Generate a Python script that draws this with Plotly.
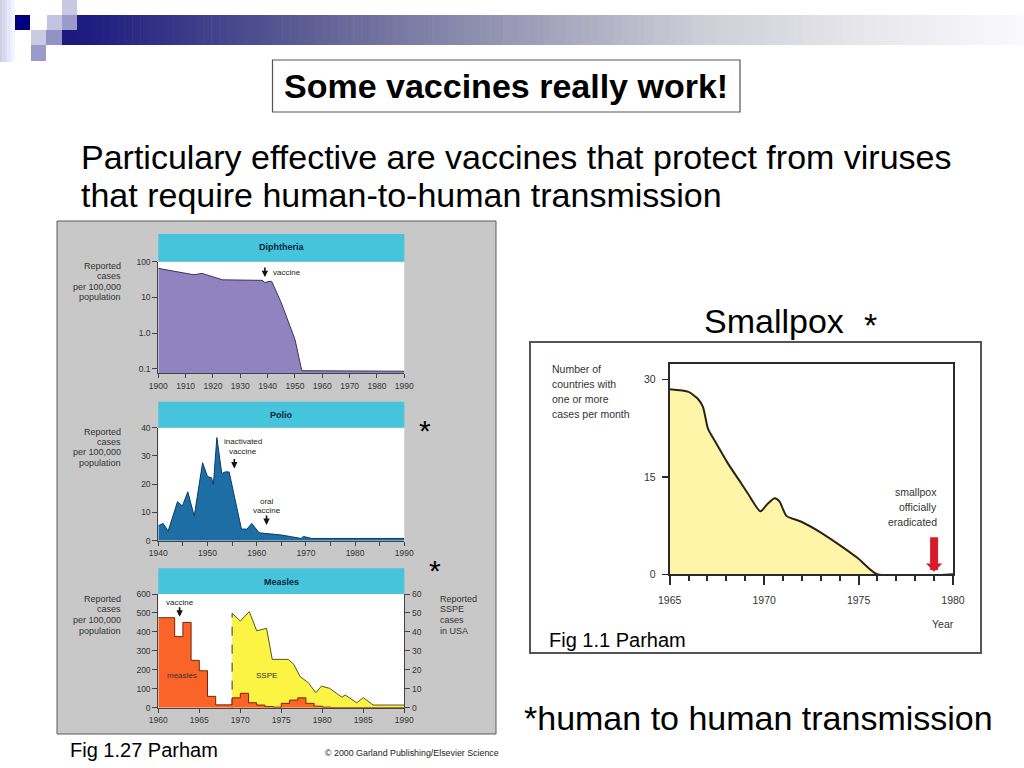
import plotly.graph_objects as go
import numpy as np

W, H = 1024, 768
SANS = "Liberation Sans, Arial, Helvetica, sans-serif"

# ------------------------------------------------------------------ data
diph_years = [1900, 1905, 1910, 1913, 1916, 1920, 1923.5, 1938, 1939, 1940.5, 1941.5, 1945, 1948, 1950, 1952.5, 1990]
diph_cases = [65, 55, 47, 43, 47, 38, 31, 30, 26, 28, 28, 7, 1.6, 0.66, 0.088, 0.085]
diph_tickvals = [0.1, 1, 10, 100]
diph_ticktext = ["0.1", "1.0", "10", "100"]
diph_xticks = list(range(1900, 1991, 10))

polio_years = [1940, 1941, 1942, 1943.9, 1944.9, 1946, 1947.3, 1949, 1950, 1950.8, 1951.2, 1951.9,
               1952.9, 1953.7, 1954.4, 1956.9, 1958, 1959, 1960.5, 1962.4, 1965.1, 1967.1, 1969,
               1969.5, 1971.2, 1990]
polio_cases = [5.3, 6.1, 3.4, 13.8, 12.3, 17.3, 8.7, 27.6, 22.7, 22.3, 20, 36.5,
               23.8, 24.4, 24.3, 4.1, 4.1, 6.1, 2.8, 2.5, 2.0, 1.4, 0.8,
               1.5, 0.8, 0.8]
polio_yticks = [0, 10, 20, 30, 40]

measles_years = list(range(1960, 1991))
measles_cases = [475, 475, 375, 450, 250, 195, 60, 15, 15, 52, 76, 26, 14, 6, 3, 23, 40, 52, 23, 8, 3,
                 0, 0, 0, 0, 0, 0, 0, 0, 0, 0]

sspe_years = [1969, 1970.0, 1971.1, 1972.0, 1973.2, 1973.9, 1975.85, 1976.5, 1977.3, 1978.3, 1979.2,
              1979.9, 1980.9, 1982.4, 1982.8, 1984.2, 1985.0, 1986.2, 1990]
sspe_cases = [49.8, 45.7, 50.7, 40.6, 41.9, 25.5, 25.5, 23.0, 16.4, 13.2, 7.9,
              11.4, 10.2, 5.5, 6.7, 2.6, 5.3, 1.4, 1.4]

smallpox_years = [1965.0, 1966.0, 1966.5, 1966.76, 1967.03, 1967.38, 1968.09, 1968.79, 1969.15, 1969.8,
                  1970.2, 1970.56, 1970.82, 1971.18, 1971.97, 1972.94, 1974.0, 1974.97, 1975.98, 1980.0]
smallpox_countries = [28.5, 28.1, 27.0, 25.8, 22.4, 20.6, 17.05, 14.0, 12.4, 9.7,
                      10.9, 11.7, 11.2, 9.0, 8.1, 6.55, 4.5, 2.46, 0, 0]
smallpox_yticks = [0, 15, 30]

# vaccine markers (year, value the arrow points to)
diph_vaccine = (1939, 37)
polio_inactivated = (1955.45, 25.6)
polio_oral = (1962.0, 5.6)
measles_vaccine = (1962.6, 480)
smallpox_eradicated = (1979.0, 0.4)

# ------------------------------------------------------------------ helpers
def PX(x):
    return x / W


def PY(y):
    return 1 - y / H


fig = go.Figure()
shapes = []
annotations = []


def rect(x0, y0, x1, y1, fill, line=None, lw=0):
    shapes.append(dict(type="rect", xref="paper", yref="paper", x0=PX(x0), x1=PX(x1),
                       y0=PY(y1), y1=PY(y0), fillcolor=fill, layer="below",
                       line=dict(color=line or fill, width=lw)))


def text(s, x, y, size, color="#000", anchor="left", bold=False):
    annotations.append(dict(text=f"<b>{s}</b>" if bold else s, x=PX(x), y=PY(y), xref="paper", yref="paper",
                            xanchor=anchor, yanchor="middle", showarrow=False,
                            font=dict(size=size, color=color, family=SANS)))


def lines(items, x, y0, step, size, color="#333", anchor="right"):
    for i, s in enumerate(items):
        text(s, x, y0 + i * step, size, color, anchor)


def arrow(x, y, xref, yref, ay, color="#111", width=1.6, head=2, size=0.8):
    annotations.append(dict(text="", x=x, y=y, xref=xref, yref=yref, ax=0, ay=ay, showarrow=True,
                            arrowhead=head, arrowsize=size, arrowwidth=width, arrowcolor=color,
                            standoff=0))


# ------------------------------------------------------------------ decoration (slide template)
stops = [(77, (26, 26, 128)), (300, (92, 92, 148)), (500, (150, 150, 180)),
         (700, (206, 206, 216)), (900, (236, 236, 240)), (1024, (250, 250, 252))]
N = 120
for i in range(N):
    xa = 77 + (1024 - 77) * i / N
    xb = 77 + (1024 - 77) * (i + 1) / N + 0.6
    xm = (xa + xb) / 2
    for (p0, c0), (p1, c1) in zip(stops[:-1], stops[1:]):
        if p0 <= xm <= p1:
            t = (xm - p0) / (p1 - p0)
            c = tuple(int(c0[k] + (c1[k] - c0[k]) * t) for k in range(3))
            break
    rect(xa, 15, xb, 45, "rgb(%d,%d,%d)" % c)
for i in range(6):
    g = int(205 + 8 * i)
    rect(i * 2.5, 0, i * 2.5 + 2.6, 62, "rgb(%d,%d,%d)" % (g, g, min(255, g + 22)))
rect(62, 30, 77, 45, "rgb(26,26,128)")
rect(15, 15, 30, 30, "#000080")
rect(62, 0, 77, 15, "#c8c8e2")
rect(47, 15, 62, 30, "#c4c4e2")
rect(62, 15, 77, 30, "#9a9acb")
rect(31, 30, 46, 45, "#cacae2")
rect(46, 30, 62, 45, "#9292c4")
rect(31, 45, 46, 61, "#9a9acb")

# ------------------------------------------------------------------ panel frames
rect(57, 221, 496, 734, "#c8c8c8", "#5a5a5a", 1)
PL, PR = 158.3, 404.3
# (header top, plot top, plot bottom)
diph_box = (234.0, 261.7, 373.3)
polio_box = (401.7, 427.7, 540.7)
measles_box = (568.3, 594.0, 707.7)
CYAN = "#45c4dc"
for top, ptop, pbot in (diph_box, polio_box, measles_box):
    rect(PL, ptop, PR, pbot, "#ffffff")
    rect(PL, top, PR, ptop, CYAN)

rect(530, 342, 981, 653, "#ffffff", "#555555", 2)

# ------------------------------------------------------------------ traces
fig.add_trace(go.Scatter(x=diph_years, y=diph_cases, xaxis="x", yaxis="y", mode="lines",
                         fill="tozeroy", fillcolor="#8f84bf", line=dict(color="#3a3360", width=1)))
fig.add_trace(go.Scatter(x=polio_years, y=polio_cases, xaxis="x2", yaxis="y2", mode="lines",
                         fill="tozeroy", fillcolor="#1c6ea4", line=dict(color="#0c3c6c", width=1)))
fig.add_trace(go.Scatter(x=sspe_years, y=sspe_cases, xaxis="x3", yaxis="y3", mode="lines",
                         fill="tozeroy", fillcolor="#fbf442", line=dict(color="#55551e", width=1)))
fig.add_trace(go.Scatter(x=[sspe_years[0], sspe_years[0]], y=[0, sspe_cases[0]], xaxis="x3", yaxis="y3",
                         mode="lines", line=dict(color="#333333", width=1, dash="dash")))
fig.add_trace(go.Scatter(x=measles_years, y=measles_cases, xaxis="x3", yaxis="y4", mode="lines",
                         line_shape="hv", fill="tozeroy", fillcolor="#fb6428",
                         line=dict(color="#7a2400", width=1)))
fig.add_trace(go.Scatter(x=smallpox_years, y=smallpox_countries, xaxis="x5", yaxis="y5", mode="lines",
                         line_shape="spline", line_smoothing=0.6, fill="tozeroy", fillcolor="#fff5a8",
                         line=dict(color="#2a2410", width=2)))

# ------------------------------------------------------------------ axes
tf = dict(size=8.5, color="#333333", family=SANS)
base = dict(showgrid=False, zeroline=False, showline=True, linecolor="#444444", linewidth=1,
            ticks="outside", tickcolor="#444444", tickwidth=1, tickfont=tf, fixedrange=True,
            automargin=False)

xdom = [PX(PL), PX(PR)]


def ydom(box):
    return [PY(box[2]), PY(box[1])]


log_bottom = 2 - (diph_box[2] - diph_box[1]) / 35.67
fig.update_layout(
    xaxis=dict(base, domain=xdom, anchor="y", range=[1900, 1990], tickvals=diph_xticks, ticklen=4),
    yaxis=dict(base, domain=ydom(diph_box), anchor="x", type="log", range=[log_bottom, 2],
               tickvals=diph_tickvals, ticktext=diph_ticktext, ticklen=5),
    xaxis2=dict(base, domain=xdom, anchor="y2", range=[1940, 1990], tick0=1940, dtick=10, ticklen=4,
                minor=dict(dtick=5, ticklen=4, ticks="outside", tickcolor="#444444")),
    yaxis2=dict(base, domain=ydom(polio_box), anchor="x2", range=[0, 40], tickvals=polio_yticks, ticklen=5),
    xaxis3=dict(base, domain=xdom, anchor="y3", range=[1960, 1990], tick0=1960, dtick=5, ticklen=4),
    yaxis3=dict(base, domain=ydom(measles_box), anchor="x3", side="right", range=[0, 60], dtick=10, ticklen=5),
    yaxis4=dict(base, anchor="x3", overlaying="y3", side="left", range=[0, 600], dtick=100, ticklen=5),
    xaxis5=dict(showgrid=False, zeroline=False, showline=True, mirror=True, linecolor="#2a2a2a", linewidth=2,
                domain=[PX(669.7), PX(953)], anchor="y5", range=[1965, 1980], tick0=1965, dtick=5,
                ticks="outside", ticklen=9, tickwidth=2, tickcolor="#2a2a2a", ticklabelstandoff=6,
                minor=dict(dtick=1, ticklen=5, tickwidth=2, ticks="outside", tickcolor="#2a2a2a"),
                tickfont=dict(size=10.5, color="#333333", family=SANS), fixedrange=True, automargin=False),
    yaxis5=dict(showgrid=False, zeroline=False, showline=True, mirror=True, linecolor="#2a2a2a", linewidth=2,
                domain=[PY(574.3), PY(364)], anchor="x5", range=[0, 32.4], tickvals=smallpox_yticks,
                ticks="outside", ticklen=6, tickwidth=1.5, tickcolor="#2a2a2a", ticklabelstandoff=4,
                tickfont=dict(size=10.5, color="#333333", family=SANS), fixedrange=True, automargin=False),
)

# ------------------------------------------------------------------ arrows
arrow(diph_vaccine[0], np.log10(diph_vaccine[1]), "x", "y", -11)
arrow(polio_inactivated[0], polio_inactivated[1], "x2", "y2", -11)
arrow(polio_oral[0], polio_oral[1], "x2", "y2", -11)
arrow(measles_vaccine[0], measles_vaccine[1], "x3", "y4", -11)
arrow(smallpox_eradicated[0], smallpox_eradicated[1], "x5", "y5", -36, color="#d41c2c", width=8, head=1,
      size=0.34)

# ------------------------------------------------------------------ texts
text("Some vaccines really work!", 506, 86, 34, "#000", "center", bold=True)
shapes.append(dict(type="rect", xref="paper", yref="paper", x0=PX(272.5), x1=PX(740), y0=PY(112), y1=PY(60),
                   line=dict(color="#555555", width=1.2), fillcolor="rgba(0,0,0,0)", layer="above"))
text("Particulary effective are vaccines that protect from viruses", 79, 157, 34)
text("that require human-to-human transmission", 79, 195, 34)
text("Smallpox", 702, 321, 34)
text("*", 870, 325, 34, "#000", "center")
text("*human to human transmission", 522, 718, 34)
text("Fig 1.27 Parham", 68, 750, 20)
text("© 2000 Garland Publishing/Elsevier Science", 323, 753, 8.85, "#222", "left")
text("Fig 1.1 Parham", 547, 640, 20)
text("*", 425, 430, 30, "#000", "center")
text("*", 435, 570, 30, "#000", "center")

# panel labels
lines(["Reported", "cases", "per 100,000", "population"], 123.3, 265.5, 10.6, 9)
lines(["Reported", "cases", "per 100,000", "population"], 123.3, 431.5, 10.4, 9)
lines(["Reported", "cases", "per 100,000", "population"], 123.3, 598.5, 10.7, 9)
lines(["Reported", "SSPE", "cases", "in USA"], 437.5, 598.5, 10.7, 9, anchor="left")
text("Diphtheria", 281.3, 246.7, 9, "#0a1e3c", "center", bold=True)
text("Polio", 281.3, 414.5, 9, "#0a1e3c", "center", bold=True)
text("Measles", 281.3, 581.7, 9, "#0a1e3c", "center", bold=True)
text("vaccine", 270.5, 272.7, 8, "#222")
lines(["inactivated", "vaccine"], 243.3, 441.7, 10, 8, "#222", "center")
lines(["oral", "vaccine"], 266.7, 501.3, 9.6, 8, "#222", "center")
text("vaccine", 180, 602.7, 8, "#222", "center")
text("measles", 181.7, 675, 8, "#333", "center")
text("SSPE", 266.7, 675, 8, "#333", "center")

lines(["Number of", "countries with", "one or more", "cases per month"], 549.5, 369, 15, 10.5, "#333", "left")
lines(["smallpox", "officially", "eradicated"], 938.5, 492, 15, 10.5, "#333", "right")
text("Year", 943, 624, 10.5, "#333", "center")

fig.update_layout(width=W, height=H, margin=dict(l=0, r=0, t=0, b=0, pad=0, autoexpand=False),
                  paper_bgcolor="#ffffff", plot_bgcolor="rgba(0,0,0,0)", showlegend=False,
                  hovermode=False, shapes=shapes, annotations=annotations, font=dict(family=SANS))

fig.write_html("out.html", config={"displayModeBar": False, "staticPlot": True},
               post_script="document.body.style.margin='0px';")
